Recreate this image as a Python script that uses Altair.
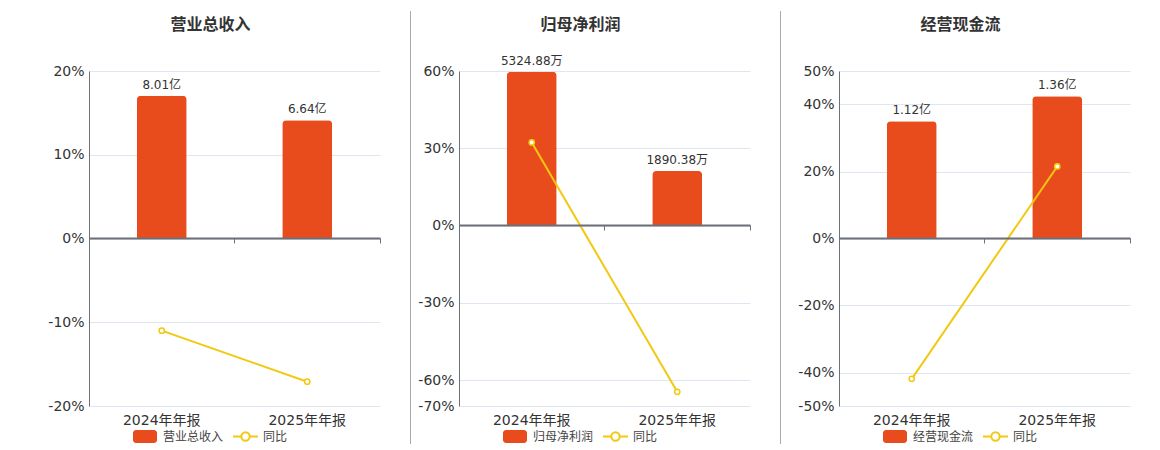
import altair as alt
import pandas as pd

FONT = "DejaVu Sans, Noto Sans CJK SC"
ORANGE = "#E84C1D"
YELLOW = "#F2C811"
AXIS_GRAY = "#6E7079"
GRID = "#E0E6F1"

categories = ["2024年年报", "2025年年报"]

rev_values = [8.01, 6.64]
rev_yoy = [-11.0, -17.1]

np_values = [5324.88, 1890.38]
np_yoy = [32.3, -64.5]

cf_values = [1.12, 1.36]
cf_yoy = [-41.9, 21.5]

W, H = 291, 335

one_df = pd.DataFrame({"k": [0]})


def panel(title, name, vals, unit, yoy, pct_dom, pct_ticks, bar_dom, zero_offset, anchor=False):
    df = pd.DataFrame({
        "period": categories,
        "value": vals,
        "yoy": yoy,
        "label": [f"{v:.2f}{unit}" for v in vals],
    })
    base = alt.Chart(df)
    xs = alt.Scale(domain=categories, paddingInner=0, paddingOuter=0)
    bar_scale = alt.Scale(domain=bar_dom, nice=False, zero=False)
    pct_scale = alt.Scale(domain=pct_dom, nice=False, zero=False)

    bars = base.mark_bar(size=50, color=ORANGE, cornerRadiusTopLeft=4, cornerRadiusTopRight=4).encode(
        x=alt.X("period:N", scale=xs, sort=None, title=None,
                axis=alt.Axis(orient="bottom", labelAngle=0, domain=False, ticks=False, grid=False,
                              labelFontSize=14, labelColor="#333333", labelPadding=7, labelFont=FONT)),
        y=alt.Y("value:Q", scale=bar_scale, axis=None),
    )
    labels = base.mark_text(baseline="middle", dy=-11, fontSize=12, color="#333333", font=FONT).encode(
        x=alt.X("period:N", scale=xs, sort=None, axis=None),
        y=alt.Y("value:Q", scale=bar_scale, axis=None),
        text="label:N",
    )
    line = base.mark_line(color=YELLOW, strokeWidth=2).encode(
        x=alt.X("period:N", scale=xs, sort=None, title=None,
                axis=alt.Axis(orient="bottom", labels=False, domain=True, domainColor=AXIS_GRAY, domainWidth=2,
                              ticks=True, tickColor=AXIS_GRAY, tickSize=5, tickWidth=1,
                              bandPosition=1, offset=zero_offset, zindex=1, grid=False)),
        y=alt.Y("yoy:Q", scale=pct_scale, title=None,
                axis=alt.Axis(orient="left", values=pct_ticks, labelExpr="datum.value + '%'",
                              grid=True, gridColor=GRID, gridWidth=1,
                              domain=True, domainColor=AXIS_GRAY, ticks=False,
                              labelFontSize=14, labelColor="#333333", labelPadding=5, labelFont=FONT)),
    )
    points = base.mark_point(shape="circle", size=28, filled=True, fill="white", stroke=YELLOW,
                             strokeWidth=1.5, opacity=1).encode(
        x=alt.X("period:N", scale=xs, sort=None, axis=None),
        y=alt.Y("yoy:Q", scale=pct_scale, axis=None),
    )

    one = alt.Chart(one_df)
    title_t = one.mark_text(fontSize=16, fontWeight="bold", color="#333333", font=FONT, baseline="middle").encode(
        x=alt.value(W / 2 - 24), y=alt.value(-46), text=alt.value(title))
    leg_rect = one.mark_rect(color=ORANGE, cornerRadius=3).encode(
        x=alt.value(44), x2=alt.value(68), y=alt.value(359), y2=alt.value(372))
    leg_txt1 = one.mark_text(align="left", baseline="middle", fontSize=12, color="#444444", font=FONT).encode(
        x=alt.value(74), y=alt.value(365.5), text=alt.value(name))
    leg_line = one.mark_rule(color=YELLOW, strokeWidth=2).encode(
        x=alt.value(144), x2=alt.value(169), y=alt.value(365.5))
    leg_pt = one.mark_point(shape="circle", size=70, filled=True, fill="white", stroke=YELLOW,
                            strokeWidth=2, opacity=1).encode(x=alt.value(156.5), y=alt.value(365.5))
    leg_txt2 = one.mark_text(align="left", baseline="middle", fontSize=12, color="#444444", font=FONT).encode(
        x=alt.value(174), y=alt.value(365.5), text=alt.value("同比"))

    layers = [bars, labels, line, points, title_t, leg_rect, leg_txt1, leg_line, leg_pt, leg_txt2]
    if anchor:
        layers.append(one.mark_rule(color="white", strokeWidth=1).encode(
            x=alt.value(-80.5), y=alt.value(0), y2=alt.value(1)))

    return alt.layer(*layers).resolve_scale(y="independent").resolve_axis(
        x="independent", y="independent").properties(width=W, height=H)


def spacer(width):
    return alt.Chart(one_df).mark_rule(color="#AAAAAA", strokeWidth=1).encode(
        x=alt.value(30.5), y=alt.value(-60), y2=alt.value(373)).properties(width=width, height=H)


p1 = panel("营业总收入", "营业总收入", rev_values, "亿", rev_yoy,
           [-20, 20], [-20, -10, 0, 10, 20], [-9.4, 9.4], -168, anchor=True)
p2 = panel("归母净利润", "归母净利润", np_values, "万", np_yoy,
           [-70, 60], [-70, -60, -30, 0, 30, 60], [-5355 * 70 / 60, 5355], -181)
p3 = panel("经营现金流", "经营现金流", cf_values, "亿", cf_yoy,
           [-50, 50], [-50, -40, -20, 0, 20, 40, 50], [-1.6, 1.6], -168)

chart = alt.hconcat(p1, spacer(79), p2, spacer(89), p3, spacing=0, bounds="flush").properties(
    padding={"left": 0, "top": 2, "right": 5, "bottom": 0}
).configure(font=FONT).configure_view(stroke=None)

chart.save("out.html", embed_options={"renderer": "svg", "actions": False})
